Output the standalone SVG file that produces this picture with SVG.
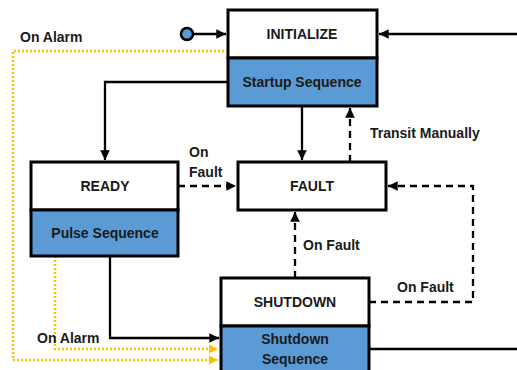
<svg xmlns="http://www.w3.org/2000/svg" width="517" height="370" viewBox="0 0 517 370">
<defs>
<marker id="ah" viewBox="0 0 10 10" refX="10" refY="5" markerWidth="4.2" markerHeight="4.2" orient="auto" markerUnits="strokeWidth"><path d="M0,0 L10,5 L0,10 z" fill="#000"/></marker>
<marker id="ahy" viewBox="0 0 10 10" refX="10" refY="5" markerWidth="3.8" markerHeight="3.8" orient="auto" markerUnits="strokeWidth"><path d="M0,0 L10,5 L0,10 z" fill="#FFC000"/></marker>
<style>
.box{fill:#fff;stroke:#000;stroke-width:3}
.blue{fill:#5B9BD5;stroke:#000;stroke-width:3}
.t{font-family:"Liberation Sans",Arial,sans-serif;font-weight:bold;font-size:14px;fill:#1a1a1a;text-anchor:middle}
.l{font-family:"Liberation Sans",Arial,sans-serif;font-weight:bold;font-size:14px;fill:#1a1a1a}
.s{fill:none;stroke:#000;stroke-width:2.3}
.d{fill:none;stroke:#000;stroke-width:2.3;stroke-dasharray:7 5}
.y{fill:none;stroke:#FFC000;stroke-width:2.5;stroke-dasharray:2 2}
</style>
</defs>
<rect width="517" height="370" fill="#fff"/>
<g id="connectors">
<path class="s" d="M193,34 L226,34" marker-end="url(#ah)"/>
<path class="s" d="M517,34 L379,34" marker-end="url(#ah)"/>
<path class="s" d="M228,82 L105,82 L105,160" marker-end="url(#ah)"/>
<path class="s" d="M302,106 L302,160" marker-end="url(#ah)"/>
<path class="d" d="M350,162 L350,108" marker-end="url(#ah)"/>
<path class="d" d="M178,186 L236,186" marker-end="url(#ah)"/>
<path class="d" d="M369,302 L473,302 L473,186 L388,186" marker-end="url(#ah)"/>
<path class="d" d="M295,278 L295,212" marker-end="url(#ah)"/>
<path class="s" d="M110,256 L110,338 L219,338" marker-end="url(#ah)"/>
<path class="s" d="M369,349 L517,349"/>
<path class="y" d="M228,51 L13,51 L13,360 L218,360" marker-end="url(#ahy)"/>
<path class="y" d="M63,256 L55,256 L55,349 L218,349" marker-end="url(#ahy)"/>
<text class="l" x="20" y="42">On Alarm</text>
<text class="l" x="370" y="138">Transit Manually</text>
<text class="l" x="189" y="157">On</text>
<text class="l" x="189" y="177">Fault</text>
<text class="l" x="303" y="250">On Fault</text>
<text class="l" x="397" y="292">On Fault</text>
<text class="l" x="37" y="343">On Alarm</text>
</g>
<circle id="start" cx="187" cy="34" r="6" fill="#5B9BD5" stroke="#000" stroke-width="2.5"/>
<g id="initialize">
<rect class="box" x="228" y="10" width="149" height="48"/>
<rect class="blue" x="228" y="58" width="149" height="48"/>
<text class="t" x="302" y="39">INITIALIZE</text>
<text class="t" x="302" y="87">Startup Sequence</text>
</g>
<g id="ready">
<rect class="box" x="31" y="162" width="147" height="48"/>
<rect class="blue" x="31" y="210" width="147" height="46"/>
<text class="t" x="105" y="191">READY</text>
<text class="t" x="105" y="238">Pulse Sequence</text>
</g>
<g id="fault">
<rect class="box" x="238" y="162" width="148" height="48"/>
<text class="t" x="312" y="191">FAULT</text>
</g>
<g id="shutdown">
<rect class="box" x="221" y="278" width="148" height="48"/>
<rect class="blue" x="221" y="326" width="148" height="50"/>
<text class="t" x="295" y="307">SHUTDOWN</text>
<text class="t" x="295" y="344">Shutdown</text>
<text class="t" x="295" y="364">Sequence</text>
</g>
</svg>
